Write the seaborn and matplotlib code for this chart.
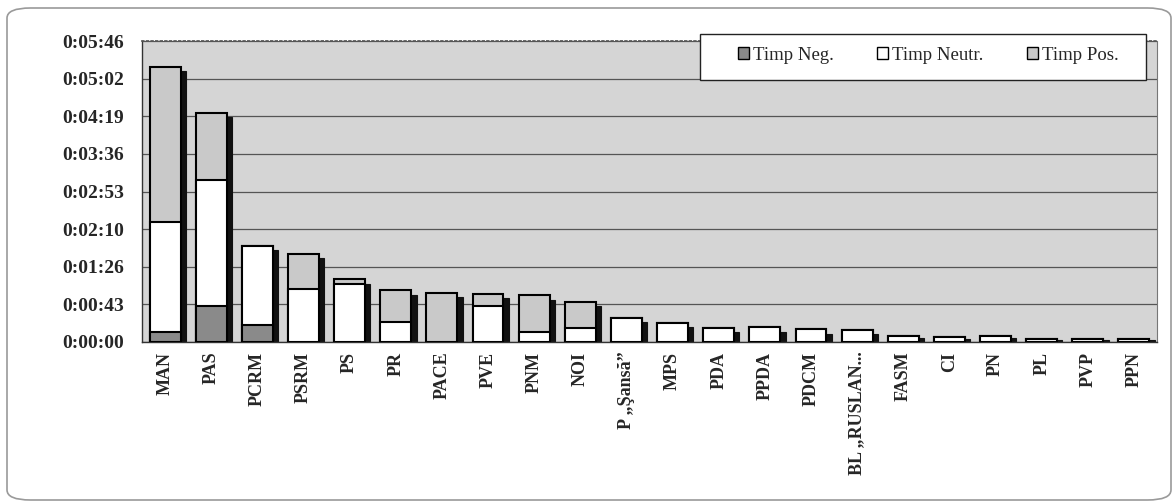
import numpy as np
import pandas as pd
import matplotlib
matplotlib.use("Agg")
import matplotlib.pyplot as plt
from matplotlib.patches import FancyBboxPatch, Patch, Rectangle
import seaborn as sns

categories = ["MAN", "PAS", "PCRM", "PSRM", "PS", "PR", "PACE", "PVE", "PNM", "NOI",
              "P \u201eŞansă\u201d", "MPS", "PDA", "PPDA", "PDCM", "BL \u201eRUSLAN...",
              "FASM", "CI", "PN", "PL", "PVP", "PPN"]
# seconds
timp_neg = [11.5, 41, 20, 0, 0, 0, 0, 0, 0, 0, 0, 0, 0, 0, 0, 0, 0, 0, 0, 0, 0, 0]
timp_neutr = [126.5, 145, 90.5, 60.5, 66.5, 22.5, 0, 41, 11.5, 16.5,
              28, 22, 16.5, 17, 14.5, 14, 7, 6, 6.5, 4, 4, 4]
timp_pos = [178, 77.5, 0, 40.5, 5.5, 37, 56.5, 14.5, 42, 29.5,
            0, 0, 0, 0, 0, 0, 0, 0, 0, 0, 0, 0]
ytick_values = [0, 43.25, 86.5, 129.75, 173, 216.25, 259.5, 302.75, 346]
ytick_labels = ["0:00:00", "0:00:43", "0:01:26", "0:02:10", "0:02:53",
                "0:03:36", "0:04:19", "0:05:02", "0:05:46"]

df = pd.DataFrame({"cat": categories, "neg": timp_neg, "neutr": timp_neutr, "pos": timp_pos})
df["c1"] = df["neg"]
df["c2"] = df["neg"] + df["neutr"]
df["c3"] = df["c2"] + df["pos"]

sns.set_theme(style="white")
plt.rcParams["font.family"] = ["Liberation Serif", "DejaVu Serif"]

W, H = 1176, 504
fig = plt.figure(figsize=(W / 100, H / 100), dpi=100)
fig.patch.set_facecolor("white")
ax = fig.add_axes([142 / W, 1 - 342 / H, 1015 / W, 301 / H])
ax.set_facecolor("#d5d5d5")

c_neg = "#8a8a8a"
c_neutr = "#ffffff"
c_pos = "#c9c9c9"
bw = 0.67
x = np.arange(len(categories))

# shadows
tot = df["c3"].values
shadow_h = tot - np.minimum(5.0, tot * 0.35)
ax.bar(x + 0.115, shadow_h, width=bw, color="#111111", edgecolor="#111111",
       linewidth=0.8, zorder=2)

sns.barplot(data=df, x="cat", y="c3", color=c_pos, saturation=1, width=bw,
            edgecolor="black", linewidth=1.5, ax=ax, zorder=3)
sns.barplot(data=df, x="cat", y="c2", color=c_neutr, saturation=1, width=bw,
            edgecolor="black", linewidth=1.5, ax=ax, zorder=4)
sns.barplot(data=df, x="cat", y="c1", color=c_neg, saturation=1, width=bw,
            edgecolor="black", linewidth=1.5, ax=ax, zorder=5)
for p in ax.patches:
    if p.get_height() == 0:
        p.set_visible(False)

ax.set_ylim(0, 346)
ax.set_xlim(-0.5, len(categories) - 0.5)
ax.set_yticks(ytick_values)
ax.set_yticklabels(ytick_labels, fontsize=14, fontweight="bold")
ax.set_xticks(x)
ax.set_xticklabels(categories, rotation=90, fontsize=13, fontweight="bold")
ax.set_xticks(np.arange(len(categories) + 1) - 0.5, minor=True)
ax.tick_params(axis="x", which="major", length=0, pad=7)
ax.tick_params(axis="x", which="minor", length=5, width=0.8, color="#444444", direction="inout")
ax.tick_params(axis="y", which="major", length=6, width=0.8, color="#444444",
               direction="inout", pad=10)
ax.set_xlabel("")
ax.set_ylabel("")
ax.yaxis.grid(True, color="#555555", linewidth=0.9)
ax.set_axisbelow(True)
for s in ["left", "bottom"]:
    ax.spines[s].set_color("#333333")
    ax.spines[s].set_linewidth(1.0)
ax.spines["top"].set_color("#555555")
ax.spines["top"].set_linestyle(":")
ax.spines["right"].set_color("#777777")
ax.spines["right"].set_linewidth(0.8)

# legend box
lx0, lx1, ly0, ly1 = 700, 1146, 34, 80
fig.patches.append(Rectangle((lx0 / W, 1 - ly1 / H), (lx1 - lx0) / W, (ly1 - ly0) / H,
                             transform=fig.transFigure, facecolor="white",
                             edgecolor="#222222", linewidth=1.0, zorder=9))
handles = [Patch(facecolor=c_neg, edgecolor="black", label="Timp Neg."),
           Patch(facecolor=c_neutr, edgecolor="black", label="Timp Neutr."),
           Patch(facecolor=c_pos, edgecolor="black", label="Timp Pos.")]
leg = fig.legend(handles=handles, ncol=3, loc="center left",
                 bbox_to_anchor=(738 / W, 1 - 55 / H), frameon=False,
                 fontsize=13.5, handlelength=0.6, handleheight=0.6,
                 handletextpad=0.2, columnspacing=2.3, borderpad=0, borderaxespad=0)
leg.set_zorder(10)

frame = FancyBboxPatch((7 / W, 4 / H), 1164 / W, 492 / H,
                       boxstyle="round,pad=0,rounding_size=0.02",
                       transform=fig.transFigure, facecolor="none",
                       edgecolor="#9a9a9a", linewidth=1.2, zorder=0)
fig.patches.append(frame)

fig.savefig("out.png", dpi=100, facecolor="white")
